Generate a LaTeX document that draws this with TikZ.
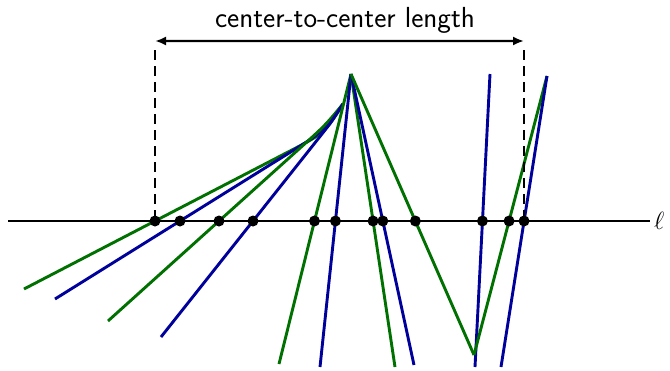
\documentclass[tikz,border=0pt]{standalone}
\usepackage{amsmath}
\usepackage{tikz}
\usetikzlibrary{calc, arrows.meta}

\definecolor{lineGreen}{RGB}{0,112,0}
\definecolor{lineBlue}{RGB}{0,0,155}

\begin{document}
\begin{tikzpicture}[
    x=1pt, y=-1pt,
    ray/.style={line width=2.9pt},
    grn/.style={ray, draw=lineGreen},
    blu/.style={ray, draw=lineBlue},
    isect/.style={circle, fill=black, inner sep=0pt, minimum size=11pt},
    guide/.style={line width=2pt, dash pattern=on 10pt off 6pt},
    span/.style={{Latex[length=11pt,width=9pt]}-{Latex[length=11pt,width=9pt]}, line width=2.2pt}
]
    \useasboundingbox (0,0) rectangle (670,370);

    % --- LINE ELL ---
    \coordinate (lw) at (8,221);
    \coordinate (le) at (650,221);
    \draw [line width=2.2pt] (lw) -- (le);
    \node [anchor=west, inner sep=0pt, font=\fontsize{30}{34}\selectfont] (ell) at (654,221) {$\ell$};

    % --- COMMON POINTS ---
    \coordinate (apex) at (351,74);
    \coordinate (meet) at (343,104);

    % --- CURVED RAYS (left) ---
    \coordinate (a0) at (24,289);  \coordinate (a1) at (155,221);
    \coordinate (a2) at (290,151); \coordinate (a3) at (325,132.8);
    \coordinate (b0) at (55,299);  \coordinate (b1) at (180,221);
    \coordinate (b2) at (290,152.4); \coordinate (b3) at (322,132.4);
    \coordinate (c0) at (108,321); \coordinate (c1) at (219,221);
    \coordinate (c2) at (300,148.1); \coordinate (c3) at (325,125.6);
    \coordinate (d0) at (161,337); \coordinate (d1) at (253,221);
    \coordinate (d2) at (315,142.8); \coordinate (d3) at (330,123.9);

    \draw [grn] (a0) -- (a1) -- (a2) .. controls (a3) .. (meet);
    \draw [blu] (b0) -- (b1) -- (b2) .. controls (b3) .. (meet);
    \draw [grn] (c0) -- (c1) -- (c2) .. controls (c3) .. (meet);
    \draw [blu] (d0) -- (d1) -- (d2) .. controls (d3) .. (meet);

    % --- STRAIGHT RAYS TO APEX ---
    \coordinate (e0) at (279,364);
    \coordinate (f0) at (320,367);
    \coordinate (g0) at (395,367);
    \coordinate (h0) at (414,365);
    \coordinate (i0) at (474,355);
    \draw [grn] (e0) -- (apex);
    \draw [blu] (f0) -- (apex);
    \draw [grn] (g0) -- (apex);
    \draw [blu] (h0) -- (apex);
    \draw [grn] (i0) -- (apex);

    % --- RIGHT RAYS ---
    \coordinate (j0) at (475,367); \coordinate (j1) at (490,74);
    \coordinate (k1) at (547,76);
    \coordinate (l0) at (501,367); \coordinate (l1) at (547,76);
    \draw [blu] (j0) -- (j1);
    \draw [grn] (i0) -- (k1);
    \draw [blu] (l0) -- (l1);

    % --- INTERSECTIONS WITH ELL ---
    \node [isect] (da) at (a1) {};
    \node [isect] (db) at (b1) {};
    \node [isect] (dc) at (c1) {};
    \node [isect] (dd) at (d1) {};
    \node [isect] (de) at (intersection of e0--apex and lw--le) {};
    \node [isect] (df) at (intersection of f0--apex and lw--le) {};
    \node [isect] (dg) at (intersection of g0--apex and lw--le) {};
    \node [isect] (dh) at (intersection of h0--apex and lw--le) {};
    \node [isect] (di) at (intersection of i0--apex and lw--le) {};
    \node [isect] (dj) at (intersection of j0--j1 and lw--le) {};
    \node [isect] (dk) at (intersection of i0--k1 and lw--le) {};
    \node [isect] (dl) at (intersection of l0--l1 and lw--le) {};

    % --- CENTER-TO-CENTER LENGTH ---
    \coordinate (gl) at ($(da)+(0,-171)$);
    \coordinate (gr) at ($(dl)+(0,-171)$);
    \draw [guide] (gl) -- (da.center);
    \draw [guide] (gr) -- (dl.center);
    \coordinate (sl) at ($(da)+(0,-180)$);
    \coordinate (sr) at ($(dl)+(0,-180)$);
    \draw [span] (sl) -- (sr);
    \node [anchor=base, inner sep=0pt, font=\sffamily\fontsize{29}{34}\selectfont] (lbl) at (345,27) {center-to-center length};

\end{tikzpicture}
\end{document}
